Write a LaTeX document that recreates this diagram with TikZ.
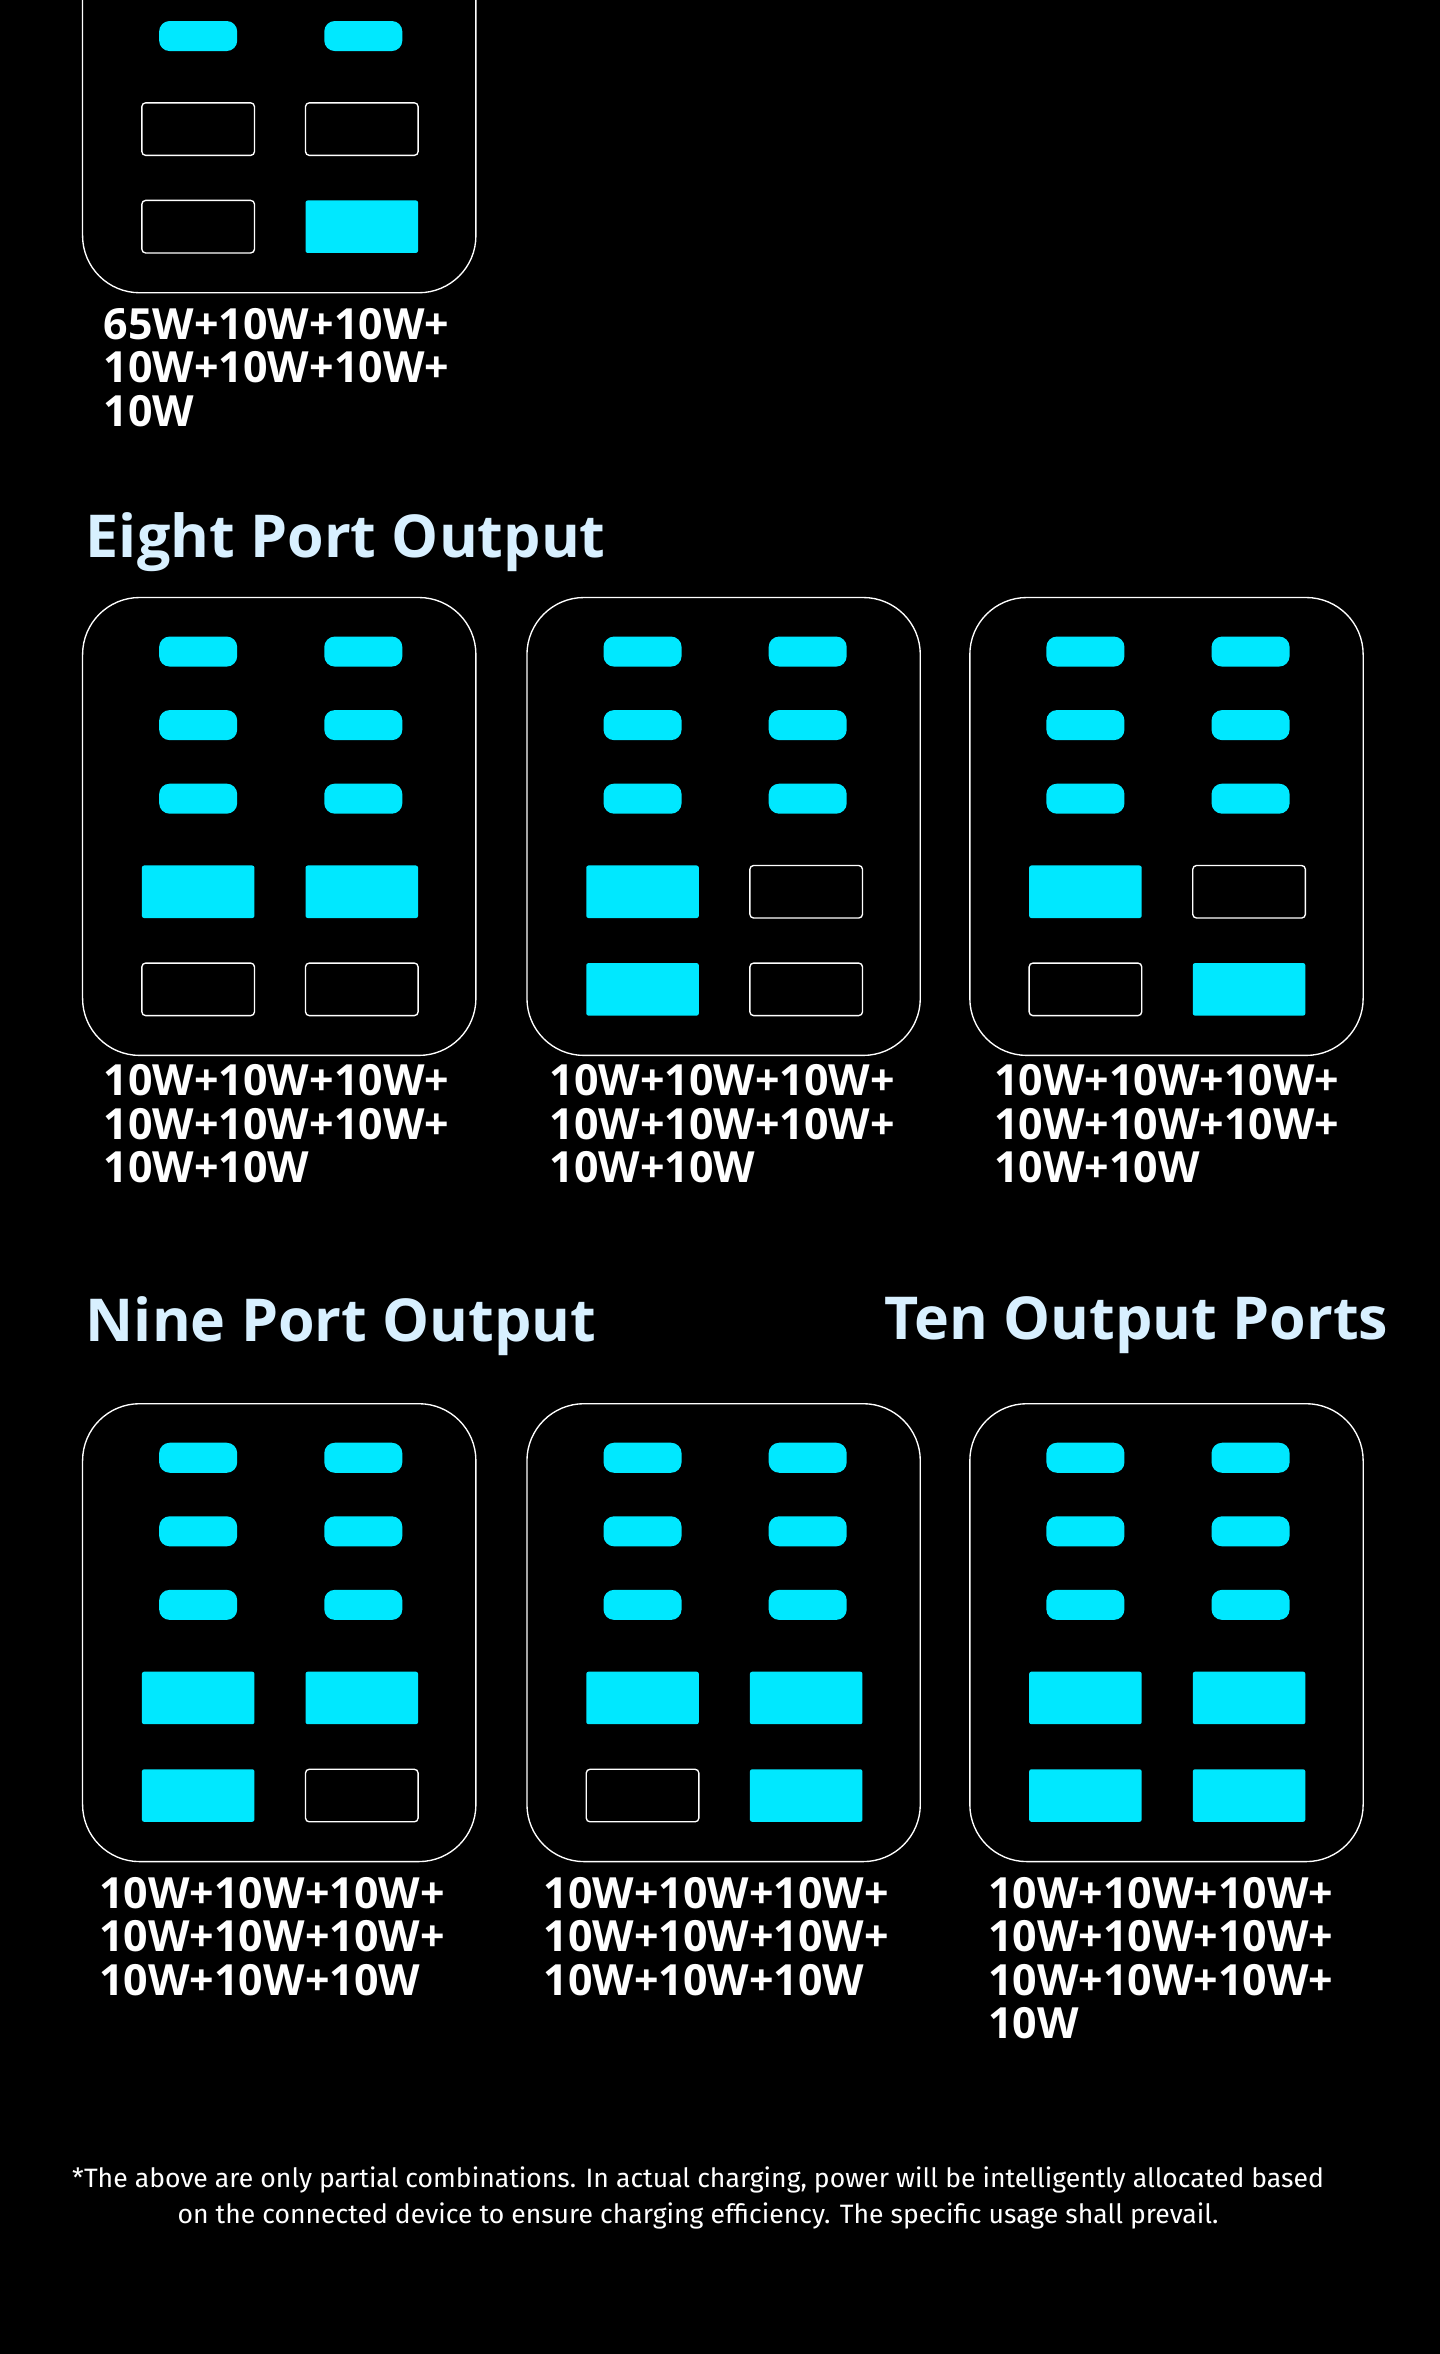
\documentclass[tikz,border=0pt]{standalone}
\usepackage{fontspec}
\setmainfont{Fira Sans}
\newfontfamily\labfont{Open Sans}
\begin{document}
\begin{tikzpicture}[x=1pt,y=-1pt,
  panel/.style={draw=white,line width=0.9pt,rounded corners=38pt},
  pill/.style={fill=portc,rounded corners=7pt},
  full/.style={fill=portc,rounded corners=1.5pt},
  empty/.style={draw=white,line width=0.9pt,rounded corners=2.5pt},
  lab/.style={anchor=north west,align=left,text=white,font=\labfont\fontsize{28.6}{29}\selectfont\bfseries,inner sep=0pt},
  head/.style={anchor=west,text=headc,font=\labfont\fontsize{39.4}{40}\selectfont\bfseries,inner sep=0pt}]
\definecolor{portc}{HTML}{00E8FF}
\definecolor{headc}{HTML}{D8F0FF}
\fill[black] (0,0) rectangle (959,1568);
\useasboundingbox (0,0) rectangle (959,1568);
\newcommand\mypanel[6]{%
  \draw[panel] (#1,#2) rectangle ++(262,305);
  \foreach \r in {36,85,134}{
    \fill[pill] (#1+51,#2+\r-10) rectangle ++(52,20);
    \fill[pill] (#1+161,#2+\r-10) rectangle ++(52,20);}
  \path[#3] (#1+39.5,#2+178.5) rectangle ++(75,35);
  \path[#4] (#1+148.5,#2+178.5) rectangle ++(75,35);
  \path[#5] (#1+39.5,#2+243.5) rectangle ++(75,35);
  \path[#6] (#1+148.5,#2+243.5) rectangle ++(75,35);}
\mypanel{55}{-110}{empty}{empty}{empty}{full}
\node[lab] (l0) at (69,205) {65W+10W+10W+\\10W+10W+10W+\\10W};
\node[head] (h8) at (57,361) {Eight Port Output};
\mypanel{55}{398}{full}{full}{empty}{empty}
\mypanel{351}{398}{full}{empty}{full}{empty}
\mypanel{646}{398}{full}{empty}{empty}{full}
\node[lab] (l1) at (69,709) {10W+10W+10W+\\10W+10W+10W+\\10W+10W};
\node[lab] (l2) at (366,709) {10W+10W+10W+\\10W+10W+10W+\\10W+10W};
\node[lab] (l3) at (662,709) {10W+10W+10W+\\10W+10W+10W+\\10W+10W};
\node[head] (h9) at (57,883) {Nine Port Output};
\node[head,anchor=east] (h10) at (925,883) {Ten Output Ports};
\mypanel{55}{935}{full}{full}{full}{empty}
\mypanel{351}{935}{full}{full}{empty}{full}
\mypanel{646}{935}{full}{full}{full}{full}
\node[lab] (l4) at (66,1250) {10W+10W+10W+\\10W+10W+10W+\\10W+10W+10W};
\node[lab] (l5) at (362,1250) {10W+10W+10W+\\10W+10W+10W+\\10W+10W+10W};
\node[lab] (l6) at (658,1250) {10W+10W+10W+\\10W+10W+10W+\\10W+10W+10W+\\10W};
\node[text=white,align=center,font=\fontsize{17.7}{24}\selectfont,inner sep=0pt] (fn) at (465,1464) {*The above are only partial combinations. In actual charging, power will be intelligently allocated based\\on the connected device to ensure charging efficiency. The specific usage shall prevail.};
\end{tikzpicture}
\end{document}
